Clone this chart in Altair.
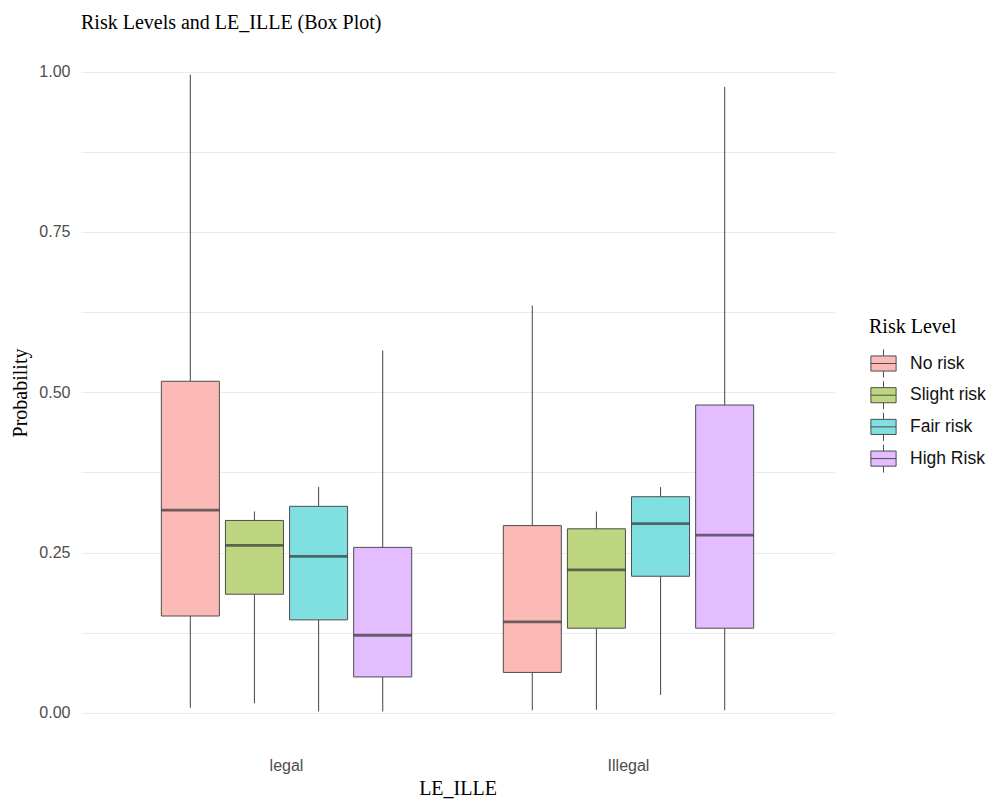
import altair as alt
import pandas as pd

# Five-number summaries per LE_ILLE group and risk level
group_order = ["legal", "Illegal"]
level_order = ["No risk", "Slight risk", "Fair risk", "High Risk"]

groups = ["legal"] * 4 + ["Illegal"] * 4
levels = level_order * 2

whisker_low = [0.008, 0.015, 0.002, 0.002, 0.004, 0.005, 0.028, 0.004]
q1 = [0.151, 0.185, 0.145, 0.056, 0.063, 0.132, 0.213, 0.132]
median = [0.316, 0.261, 0.244, 0.121, 0.142, 0.223, 0.295, 0.277]
q3 = [0.517, 0.300, 0.322, 0.258, 0.292, 0.287, 0.337, 0.480]
whisker_high = [0.995, 0.314, 0.352, 0.565, 0.635, 0.314, 0.352, 0.976]

# ggplot hues drawn at half alpha over white
fill_colors = ["#FBBAB6", "#BDD67F", "#7FDFE1", "#E3BDFF"]

y_ticks = [0, 0.125, 0.25, 0.375, 0.5, 0.625, 0.75, 0.875, 1.0]

df = pd.DataFrame({
    "LE_ILLE": groups,
    "Risk Level": levels,
    "lo": whisker_low,
    "q1": q1,
    "med": median,
    "q3": q3,
    "hi": whisker_high,
})

y_scale = alt.Scale(domain=[-0.047, 1.046], nice=False, zero=False)

x_enc = alt.X(
    "LE_ILLE:N",
    sort=group_order,
    scale=alt.Scale(paddingInner=0.25, paddingOuter=0.226),
    axis=alt.Axis(title="LE_ILLE", labelAngle=0, bandPosition=0.5,
                  labelPadding=14, titlePadding=5),
)
xoff_enc = alt.XOffset(
    "Risk Level:N",
    sort=level_order,
    scale=alt.Scale(paddingInner=0.095, paddingOuter=0.0475),
)

base = alt.Chart(df).encode(x=x_enc, xOffset=xoff_enc)

upper_whisker = base.mark_rule(color="#555555", strokeWidth=1.1).encode(
    y=alt.Y(
        "q3:Q",
        scale=y_scale,
        axis=alt.Axis(
            title="Probability",
            values=y_ticks,
            labelExpr="(datum.value * 4) % 1 == 0 ? format(datum.value, '.2f') : ''",
            labelPadding=11,
            titlePadding=8,
        ),
    ),
    y2="hi:Q",
)

lower_whisker = base.mark_rule(color="#555555", strokeWidth=1.1).encode(
    y=alt.Y("lo:Q", scale=y_scale),
    y2="q1:Q",
)

boxes = base.mark_bar(stroke="#4d4d4d", strokeWidth=1).encode(
    y=alt.Y("q1:Q", scale=y_scale),
    y2="q3:Q",
    fill=alt.Fill(
        "Risk Level:N",
        sort=level_order,
        scale=alt.Scale(domain=level_order, range=fill_colors),
        legend=alt.Legend(
            title="Risk Level",
            orient="none",
            legendX=788,
            legendY=275,
            padding=0,
            titleFont="Liberation Serif",
            titleFontSize=20,
            titleFontWeight="normal",
            titleColor="black",
            titlePadding=12,
            labelFont="Liberation Sans",
            labelFontSize=17.5,
            labelColor="#111111",
            labelOffset=12,
            rowPadding=-1.3,
            symbolType="M-0.9,-0.54H0.9V0.54H-0.9Z M-0.9,0H0.9 M0,-0.54V-1 M0,0.54V1",
            symbolSize=784,
            symbolStrokeColor="#4d4d4d",
            symbolStrokeWidth=1,
        ),
    ),
)

medians = base.mark_tick(color="#333333", thickness=2.8, size=58).encode(
    y=alt.Y("med:Q", scale=y_scale),
)

chart = (
    alt.layer(upper_whisker, lower_whisker, boxes, medians)
    .properties(
        width=753,
        height=701,
        autosize=alt.AutoSizeParams(type="none"),
        padding={"left": 81, "top": 42, "right": 161, "bottom": 61},
        title=alt.TitleParams(
            "Risk Levels and LE_ILLE (Box Plot)",
            anchor="start",
            frame="group",
            font="Liberation Serif",
            fontSize=20,
            fontWeight="normal",
            color="black",
            baseline="bottom",
            offset=10,
            dy=21,
        ),
    )
    .configure_view(stroke=None)
    .configure_axis(
        domain=False,
        ticks=False,
        tickSize=0,
        gridColor="#EBEBEB",
        gridWidth=1,
        labelFont="Liberation Sans",
        labelFontSize=16,
        labelColor="#4D4D4D",
        titleFont="Liberation Serif",
        titleFontSize=20,
        titleFontWeight="normal",
        titleColor="black",
    )
)

chart.save("out.html", embed_options={"renderer": "svg", "actions": False})
